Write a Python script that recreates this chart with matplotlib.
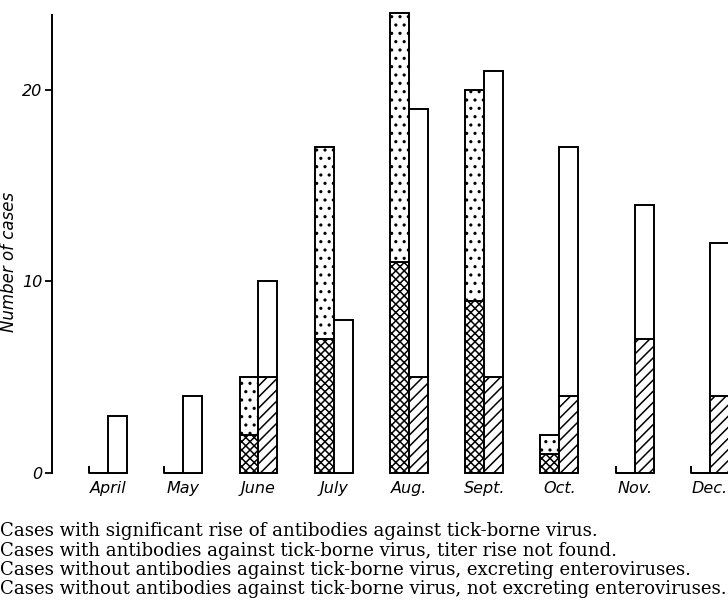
import numpy as np
import matplotlib
matplotlib.use('Agg')
import matplotlib.pyplot as plt

plt.rcParams['hatch.linewidth'] = 1.1

months = ['April', 'May', 'June', 'July', 'Aug.', 'Sept.', 'Oct.', 'Nov.', 'Dec.']
# left bar: tick-borne antibody cases
sig_rise = [0, 0, 2, 7, 11, 9, 1, 0, 0]       # crosshatched
no_rise = [0, 0, 3, 10, 13, 11, 1, 0, 0]      # dotted
# right bar: without antibodies
entero = [0, 0, 5, 0, 5, 5, 4, 7, 4]          # diagonal hatch
no_entero = [3, 4, 5, 8, 14, 16, 13, 7, 8]    # blank

legend_lines = [
    'Cases with significant rise of antibodies against tick-borne virus.',
    'Cases with antibodies against tick-borne virus, titer rise not found.',
    'Cases without antibodies against tick-borne virus, excreting enteroviruses.',
    'Cases without antibodies against tick-borne virus, not excreting enteroviruses.',
]

fig = plt.figure(figsize=(7.28, 6.08), dpi=100)
ax = fig.add_axes([52 / 728, 1 - 473 / 608, 1 - 52 / 728, (473 - 15) / 608])

x = np.arange(len(months))
w = 0.252
kw = dict(width=w, align='edge', facecolor='white', edgecolor='black', linewidth=1.4, clip_on=False)

ax.bar(x - w, sig_rise, hatch='xxxx', **kw)
ax.bar(x - w, no_rise, bottom=sig_rise, hatch='..', **kw)
ax.bar(x, entero, hatch='///', **kw)
ax.bar(x, no_entero, bottom=entero, **kw)

# empty left bars drawn as a small stub on the baseline
left_tot = np.array(sig_rise) + np.array(no_rise)
for xi in x[left_tot == 0]:
    ax.plot([xi - w, xi - w, xi], [0.3, 0, 0], color='black', lw=1.4, clip_on=False)

ax.set_xlim(-0.744, 8.24)
ax.set_ylim(0, 23.9)
ax.set_yticks([0, 10, 20])
ax.set_yticklabels(['0', '10', '20'], fontstyle='italic', fontsize=11.5)
ax.tick_params(axis='y', length=5, width=1.3, pad=2)
ax.set_xticks(x)
ax.set_xticklabels(months, fontstyle='italic', fontsize=11.5)
ax.tick_params(axis='x', length=0, pad=6)
for s in ['top', 'right', 'bottom']:
    ax.spines[s].set_visible(False)
ax.spines['left'].set_linewidth(1.4)
ax.set_ylabel('Number of cases', fontstyle='italic', fontsize=12)
ax.yaxis.set_label_coords(-34 / 676, 0.46)

for k, line in enumerate(legend_lines):
    fig.text(0.0, 1 - (531 + 19.5 * k) / 608, line, family='DejaVu Serif',
             fontsize=13.1, va='center', ha='left')

fig.savefig('out.png', dpi=100)
